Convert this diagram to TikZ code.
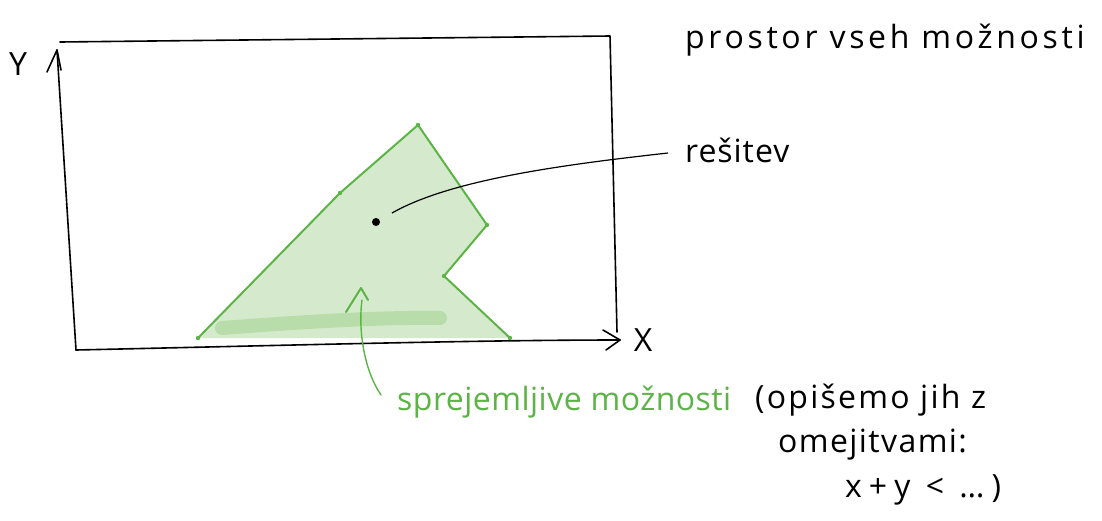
\documentclass[tikz,border=0pt]{standalone}
\usepackage{fontspec}
\setmainfont{Open Sans}
\usetikzlibrary{arrows.meta}
\definecolor{gline}{HTML}{5CB346}
\definecolor{gfill}{HTML}{D5EACC}
\definecolor{gband}{HTML}{B8DDAA}
\newcommand{\lsp}[1]{\addfontfeatures{LetterSpace=#1}}
\tikzset{
  ink/.style={line width=1.6pt, line cap=round, line join=round, black},
  hand/.style={font=\fontsize{32}{36}\selectfont, inner sep=0pt},
  ghand/.style={hand, text=gline},
  edge/.style={line width=2pt, gline, line cap=round, line join=round},
  ptr/.style={line width=1.2pt, black},
}
\begin{document}
\begin{tikzpicture}[x=1pt,y=-1pt]
\useasboundingbox (0,0) rectangle (1102,520);
% frame
\coordinate (tl) at (60,42);
\coordinate (tr) at (610,36);
\coordinate (br) at (617,332);
\coordinate (bl) at (76,350);
\coordinate (bx) at (620,340);
\coordinate (ya) at (57,50);
\draw[ink] (tl) -- (tr) -- (br);
\draw[ink] (bl) .. controls (300,345) and (480,340) .. (bx);
\draw[ink] (bl) -- (ya);
% arrow heads
\draw[ink] (47,72) -- (ya) -- (61,70);
\draw[ink] (603,330) -- (bx) -- (606,350);
\node[hand] (Y) at (18,64) {Y};
\node[hand] (X) at (643,340) {X};
% feasible region
\coordinate (p1) at (198,338);
\coordinate (p2) at (340,193);
\coordinate (p3) at (418,125);
\coordinate (p4) at (487,225);
\coordinate (p5) at (444,276);
\coordinate (p6) at (510,338);
\fill[gfill] (p1) -- (p2) -- (p3) -- (p4) -- (p5) -- (p6) -- cycle;
\draw[gband, line width=14pt, line cap=round] (222,328) .. controls (300,322) and (380,317) .. (440,318);
\draw[edge] (p1) -- (p2) -- (p3) -- (p4) -- (p5) -- (p6);
\foreach \p in {p1,p2,p3,p4,p5,p6} \fill[gline] (\p) circle (2.2pt);
% solution
\node[circle, fill=black, minimum width=6pt, minimum height=8pt, inner sep=0pt] (sol) at (376,222) {};
\coordinate (solend) at (668,153);
\draw[ptr] (392,213) .. controls (450,180) and (560,165) .. (solend);
\node[hand, anchor=west] (res) at (685,150) {\lsp{3}rešitev};
% titles
\node[hand, anchor=west] (title) at (685,40) {\lsp{11.5}prostor vseh možnosti};
% green pointer
\coordinate (gtail) at (381,395);
\coordinate (gtip) at (361,288);
\draw[gline, line width=1.4pt, line cap=round] (gtail) .. controls (364,370) and (358,330) .. (362,300);
\draw[gline, line width=2pt, line cap=round, line join=round] (346,312) -- (gtip) -- (368,300);
\node[ghand, anchor=west] (spr) at (397,402) {\lsp{1.5}sprejemljive možnosti};
\node[hand, anchor=west] (op1) at (755,400) {\lsp{7}(opišemo jih z};
\node[hand, anchor=west] (op2) at (778,445) {\lsp{4.4}omejitvami:};
\node[hand, anchor=west] (op3) at (845,490) {\lsp{22}x+y < …)};
\end{tikzpicture}
\end{document}
